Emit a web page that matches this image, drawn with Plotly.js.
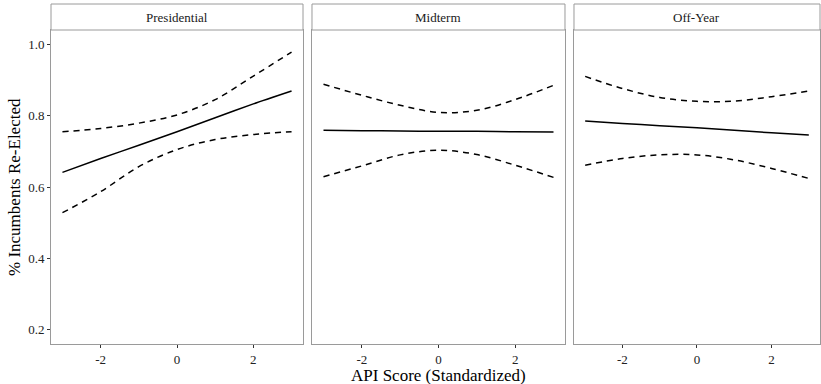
<!DOCTYPE html>
<html>
<head>
<meta charset="utf-8">
<script src="https://cdn.plot.ly/plotly-3.0.1.min.js"></script>
<style>html,body{margin:0;padding:0;background:#fff;}#chart{width:821px;height:384px;}</style>
</head>
<body>
<div id="chart"></div>
<script>
// Data
var panels = ["Presidential", "Midterm", "Off-Year"];
var apiScore = [-3, -2, -1, 0, 1, 2, 3];

var presFit   = [0.641, 0.680, 0.717, 0.755, 0.794, 0.833, 0.869];
var presLower = [0.528, 0.587, 0.657, 0.705, 0.733, 0.747, 0.755];
var presUpper = [0.755, 0.764, 0.779, 0.802, 0.845, 0.911, 0.978];

var midFit    = [0.759, 0.758, 0.757, 0.756, 0.756, 0.755, 0.754];
var midLower  = [0.629, 0.659, 0.690, 0.703, 0.691, 0.661, 0.627];
var midUpper  = [0.888, 0.857, 0.829, 0.809, 0.815, 0.845, 0.885];

var offFit    = [0.785, 0.778, 0.772, 0.766, 0.759, 0.752, 0.746];
var offLower  = [0.661, 0.680, 0.690, 0.690, 0.676, 0.652, 0.624];
var offUpper  = [0.910, 0.876, 0.851, 0.840, 0.841, 0.853, 0.869];

var xTickVals = [-2, 0, 2];
var xTickText = ["-2", "0", "2"];
var yTickVals = [0.2, 0.4, 0.6, 0.8, 1.0];
var yTickText = ["0.2", "0.4", "0.6", "0.8", "1.0"];

var series = [
  [presFit, presLower, presUpper],
  [midFit, midLower, midUpper],
  [offFit, offLower, offUpper]
];

var traces = [];
series.forEach(function (s, i) {
  var xa = i === 0 ? "x" : "x" + (i + 1);
  var ya = i === 0 ? "y" : "y" + (i + 1);
  [s[1], s[2]].forEach(function (band) {
    traces.push({
      x: apiScore, y: band, xaxis: xa, yaxis: ya, mode: "lines",
      line: {color: "#000", width: 1.5, dash: "6px,5px", shape: "spline", smoothing: 1},
      hoverinfo: "skip", showlegend: false
    });
  });
  traces.push({
    x: apiScore, y: s[0], xaxis: xa, yaxis: ya, mode: "lines",
    line: {color: "#000", width: 1.5, shape: "spline", smoothing: 0.6},
    hoverinfo: "skip", showlegend: false
  });
});

var font = "Liberation Serif, Times New Roman, serif";
var domains = [[0, 0.3277], [0.3394, 0.6684], [0.6801, 1.0]];
var panelTop = 0.9235;

var layout = {
  width: 821, height: 384,
  margin: {l: 51, r: 1, t: 4, b: 40},
  paper_bgcolor: "#fff", plot_bgcolor: "#fff",
  font: {family: font, size: 13, color: "#222"},
  showlegend: false,
  shapes: [], annotations: []
};

domains.forEach(function (d, i) {
  var sx = i === 0 ? "" : String(i + 1);
  layout["xaxis" + sx] = {
    domain: d, anchor: "y" + sx, range: [-3.3, 3.3],
    tickmode: "array", tickvals: xTickVals, ticktext: xTickText,
    ticks: "outside", ticklen: 3, tickwidth: 1, tickcolor: "#333",
    showgrid: false, zeroline: false,
    showline: true, mirror: true, linecolor: "#9a9a9a", linewidth: 1,
    tickfont: {family: font, size: 13, color: "#222"}, fixedrange: true
  };
  layout["yaxis" + sx] = {
    domain: [0, panelTop], anchor: "x" + sx, range: [0.16, 1.04],
    tickmode: "array", tickvals: yTickVals, ticktext: yTickText,
    ticks: i === 0 ? "outside" : "", ticklen: 3, tickwidth: 1, tickcolor: "#333",
    showticklabels: i === 0,
    showgrid: false, zeroline: false,
    showline: true, mirror: true, linecolor: "#9a9a9a", linewidth: 1,
    tickfont: {family: font, size: 13, color: "#222"}, fixedrange: true
  };
  layout.shapes.push({
    type: "rect", xref: "paper", yref: "paper",
    x0: d[0], x1: d[1], y0: panelTop, y1: 1,
    fillcolor: "#fff", line: {color: "#9a9a9a", width: 1}
  });
  layout.annotations.push({
    xref: "paper", yref: "paper", x: (d[0] + d[1]) / 2, y: (panelTop + 1) / 2,
    text: panels[i], showarrow: false, xanchor: "center", yanchor: "middle",
    font: {family: font, size: 13, color: "#1a1a1a"}
  });
});

layout.annotations.push({
  xref: "paper", yref: "paper", x: (domains[1][0] + domains[1][1]) / 2, y: 0,
  yshift: -31, text: "API Score (Standardized)", showarrow: false,
  xanchor: "center", yanchor: "middle", font: {family: font, size: 17, color: "#000"}
});
layout.annotations.push({
  xref: "paper", yref: "paper", x: 0, xshift: -37, y: panelTop / 2,
  text: "% Incumbents Re-Elected", showarrow: false, textangle: -90,
  xanchor: "center", yanchor: "middle", font: {family: font, size: 17, color: "#000"}
});

Plotly.newPlot("chart", traces, layout, {displayModeBar: false, staticPlot: true});
</script>
</body>
</html>
